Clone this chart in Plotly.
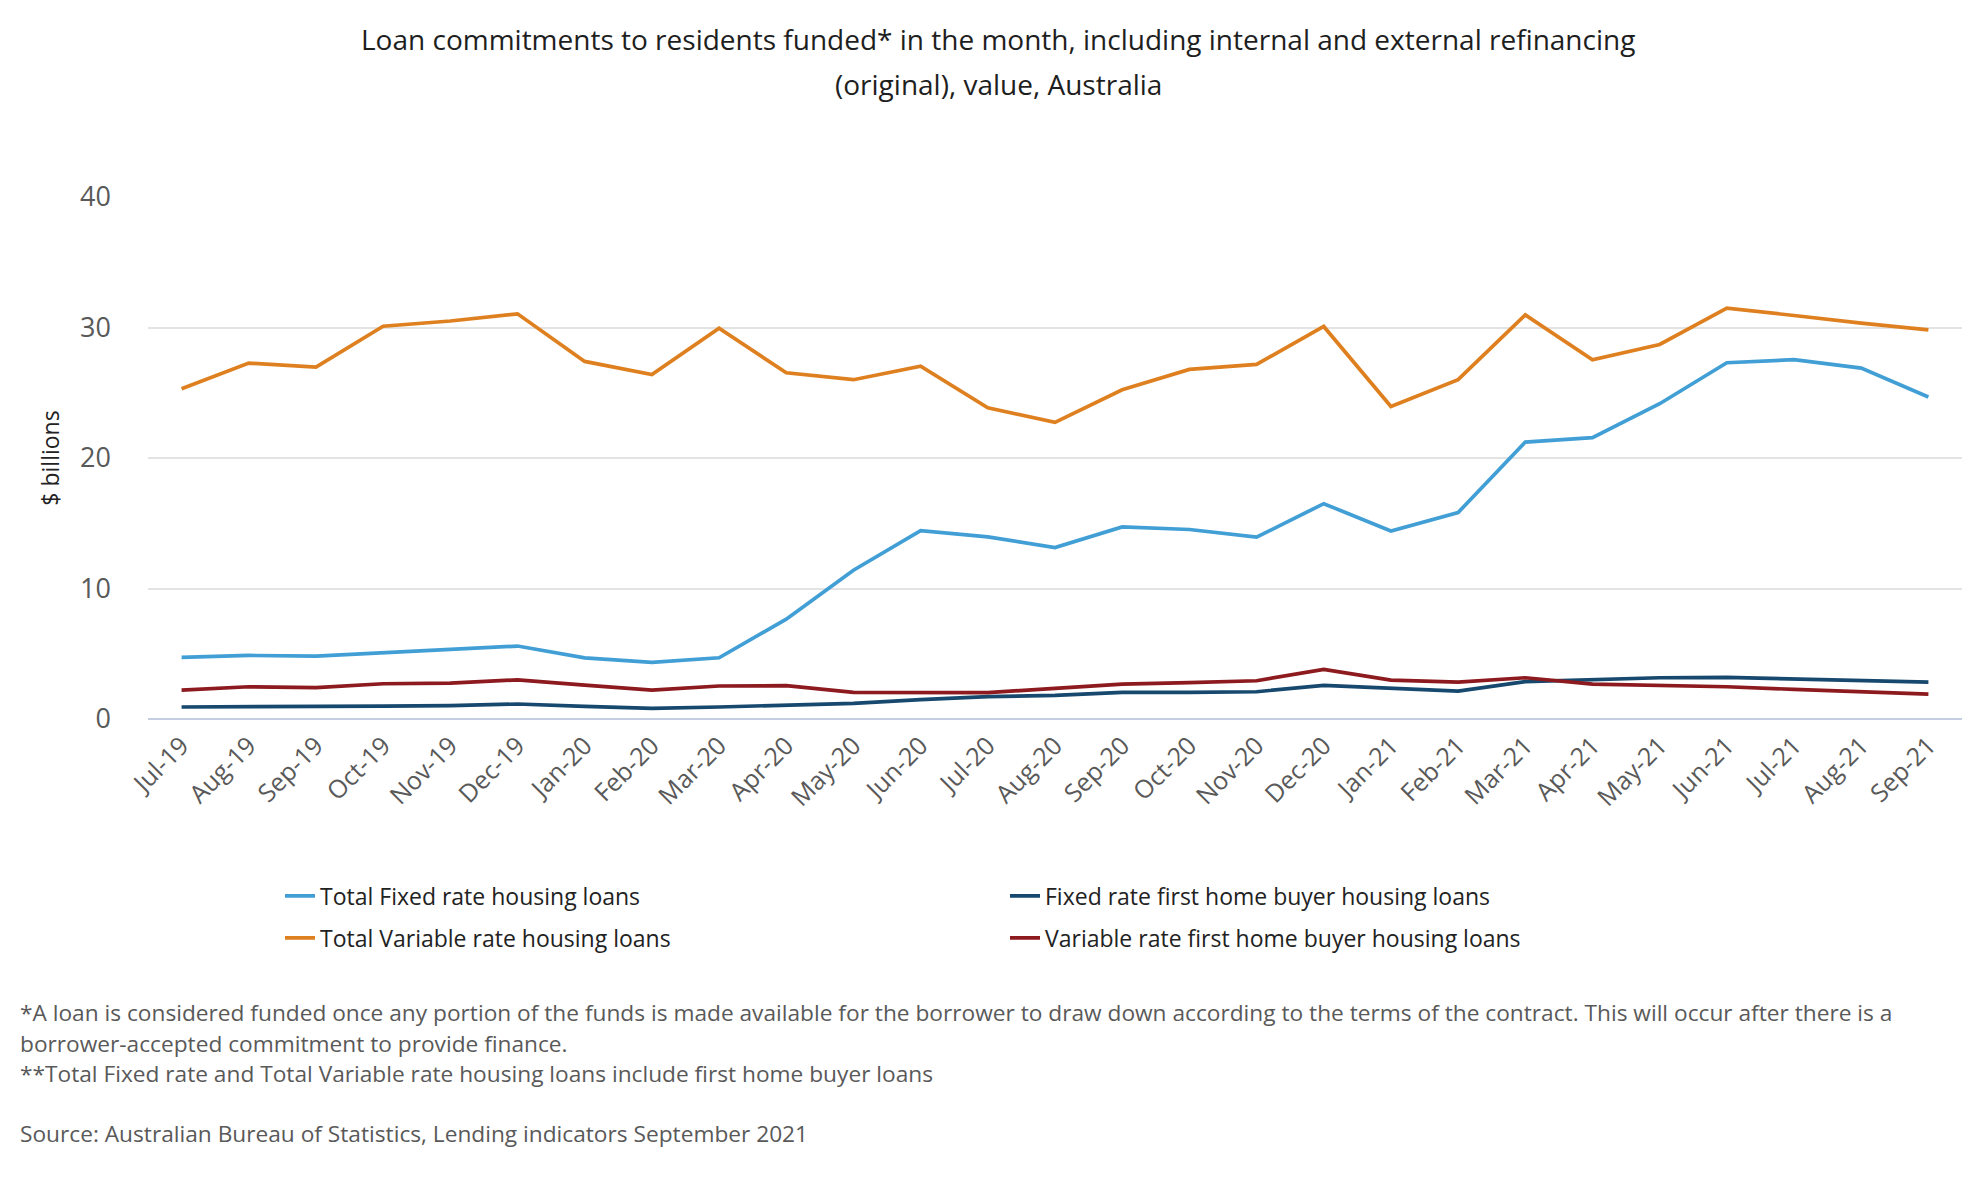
import plotly.graph_objects as go

months = ['Jul-19', 'Aug-19', 'Sep-19', 'Oct-19', 'Nov-19', 'Dec-19',
          'Jan-20', 'Feb-20', 'Mar-20', 'Apr-20', 'May-20', 'Jun-20',
          'Jul-20', 'Aug-20', 'Sep-20', 'Oct-20', 'Nov-20', 'Dec-20',
          'Jan-21', 'Feb-21', 'Mar-21', 'Apr-21', 'May-21', 'Jun-21',
          'Jul-21', 'Aug-21', 'Sep-21']

total_fixed = [4.72, 4.87, 4.82, 5.08, 5.33, 5.59, 4.69, 4.34, 4.69,
               7.65, 11.4, 14.44, 13.95, 13.14, 14.72, 14.52, 13.93, 16.5,
               14.41, 15.82, 21.22, 21.56, 24.16, 27.3, 27.53, 26.89, 24.67]

total_variable = [25.3, 27.27, 26.96, 30.1, 30.5, 31.05, 27.4, 26.4, 29.95,
                  26.53, 26.0, 27.04, 23.85, 22.73, 25.23, 26.79, 27.17, 30.08,
                  23.95, 26.0, 30.97, 27.53, 28.7, 31.48, 30.92, 30.33, 29.82]

fixed_fhb = [0.92, 0.92, 0.92, 0.99, 1.02, 1.15, 0.97, 0.82, 0.92,
             1.05, 1.2, 1.48, 1.71, 1.81, 2.04, 2.04, 2.09, 2.58,
             2.35, 2.14, 2.86, 3.04, 3.16, 3.19, 3.06, 2.98, 2.83]

variable_fhb = [2.22, 2.47, 2.4, 2.7, 2.75, 3.0, 2.6, 2.22, 2.53,
                2.55, 2.04, 2.02, 2.02, 2.35, 2.68, 2.78, 2.93, 3.8,
                2.98, 2.83, 3.16, 2.68, 2.6, 2.47, 2.27, 2.09, 1.91]

title_lines = ['Loan commitments to residents funded* in the month, including internal and external refinancing',
               '(original), value, Australia']

FONT = 'Open Sans'
W, H = 1980, 1180
L, R, T, B = 140, 26, 189, 469
plot_w = W - L - R
plot_h = H - T - B


def px(x_px):
    # page column -> paper x
    return (x_px - L) / plot_w


def py(y_px):
    # page row -> paper y
    return (H - B - y_px) / plot_h


fig = go.Figure()
# row 1 of the legend
fig.add_trace(go.Scatter(x=months, y=total_fixed, name='Total Fixed rate housing loans',
                         mode='lines', line=dict(color='#419fd5', width=3.7), legend='legend'))
fig.add_trace(go.Scatter(x=months, y=fixed_fhb, name='Fixed rate first home buyer housing loans',
                         mode='lines', line=dict(color='#17486e', width=3.7), legend='legend'))
# row 2 of the legend
fig.add_trace(go.Scatter(x=months, y=total_variable, name='Total Variable rate housing loans',
                         mode='lines', line=dict(color='#df8020', width=3.7), legend='legend2'))
fig.add_trace(go.Scatter(x=months, y=variable_fhb, name='Variable rate first home buyer housing loans',
                         mode='lines', line=dict(color='#8c1a1f', width=3.7), legend='legend2'))

legend_style = dict(orientation='h', x=px(272), xanchor='left', yanchor='middle',
                    entrywidth=680, entrywidthmode='pixels',
                    font=dict(size=23, color='#222222'), bgcolor='rgba(0,0,0,0)')

fig.update_layout(
    width=W, height=H,
    margin=dict(l=L, r=R, t=T, b=B),
    paper_bgcolor='white', plot_bgcolor='white',
    font=dict(family=FONT, color='#222222'),
    showlegend=True,
    legend=dict(legend_style, y=py(888)),
    legend2=dict(legend_style, y=py(930)),
    hovermode=False,
)

fig.update_xaxes(type='category', range=[-0.5, len(months) - 0.5],
                 showgrid=False, showline=False, zeroline=False,
                 tickangle=-45, tickfont=dict(size=25, color='#595959'),
                 ticklabelstandoff=6)
fig.update_yaxes(range=[0, 40], dtick=10, showgrid=True, gridcolor='#e3e3e3', gridwidth=1.5,
                 zeroline=True, zerolinecolor='#c5cde0', zerolinewidth=2,
                 showline=False, tickfont=dict(size=27, color='#595959'),
                 ticklabelstandoff=36,
                 title=dict(text='$ billions', font=dict(size=23, color='#222222'), standoff=14))

for text, ypx in zip(title_lines, [31, 76]):
    fig.add_annotation(text=text, xref='paper', yref='paper', x=px(W / 2), y=py(ypx),
                       xanchor='center', yanchor='middle', showarrow=False,
                       font=dict(size=28, color='#1e1e1e'))

notes = [
    ('*A loan is considered funded once any portion of the funds is made available for the borrower to draw down '
     'according to the terms of the contract. This will occur after there is a', 1005),
    ('borrower-accepted commitment to provide finance.', 1035),
    ('**Total Fixed rate and Total Variable rate housing loans include first home buyer loans', 1065),
    ('Source: Australian Bureau of Statistics, Lending indicators September 2021', 1125),
]
for text, ypx in notes:
    fig.add_annotation(text=text, xref='paper', yref='paper',
                       x=px(10), y=py(ypx), xanchor='left', yanchor='middle',
                       showarrow=False, font=dict(size=22.7, color='#595959'))

fig.write_html('out.html')
